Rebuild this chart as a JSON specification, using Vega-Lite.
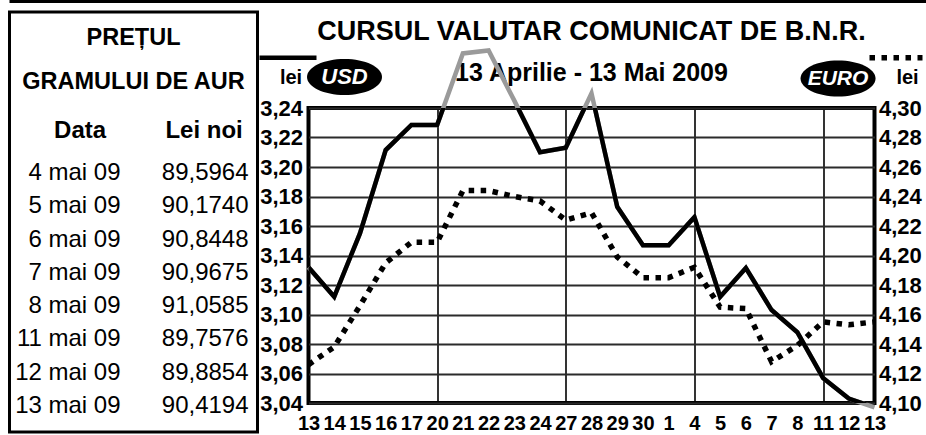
{
  "$schema": "https://vega.github.io/schema/vega-lite/v6.json",
  "background": "white",
  "padding": {"left": 7.5, "top": 0, "right": 0, "bottom": 0},
  "config": {
    "font": "Liberation Sans",
    "view": {"stroke": null},
    "locale": {"number": {"decimal": ",", "thousands": ".", "grouping": [3], "currency": ["", " lei"]}}
  },
  "datasets": {
    "rates": [
      {"date": "2009-04-13", "USD": 3.132, "EURO": 4.126},
      {"date": "2009-04-14", "USD": 3.112, "EURO": 4.138},
      {"date": "2009-04-15", "USD": 3.155, "EURO": 4.166},
      {"date": "2009-04-16", "USD": 3.2115, "EURO": 4.195},
      {"date": "2009-04-17", "USD": 3.2285, "EURO": 4.209},
      {"date": "2009-04-20", "USD": 3.2285, "EURO": 4.209},
      {"date": "2009-04-21", "USD": 3.277, "EURO": 4.244},
      {"date": "2009-04-22", "USD": 3.279, "EURO": 4.244},
      {"date": "2009-04-23", "USD": 3.245, "EURO": 4.24},
      {"date": "2009-04-24", "USD": 3.21, "EURO": 4.237},
      {"date": "2009-04-27", "USD": 3.213, "EURO": 4.224},
      {"date": "2009-04-28", "USD": 3.25, "EURO": 4.229},
      {"date": "2009-04-29", "USD": 3.173, "EURO": 4.199},
      {"date": "2009-04-30", "USD": 3.147, "EURO": 4.185},
      {"date": "2009-05-01", "USD": 3.147, "EURO": 4.185},
      {"date": "2009-05-04", "USD": 3.166, "EURO": 4.192},
      {"date": "2009-05-05", "USD": 3.112, "EURO": 4.165},
      {"date": "2009-05-06", "USD": 3.1315, "EURO": 4.164},
      {"date": "2009-05-07", "USD": 3.103, "EURO": 4.128},
      {"date": "2009-05-08", "USD": 3.088, "EURO": 4.139},
      {"date": "2009-05-11", "USD": 3.057, "EURO": 4.155},
      {"date": "2009-05-12", "USD": 3.043, "EURO": 4.153},
      {"date": "2009-05-13", "USD": 3.037, "EURO": 4.155}
    ],
    "gold": [
      {"Data": "4 mai 09", "Lei noi": 89.5964},
      {"Data": "5 mai 09", "Lei noi": 90.174},
      {"Data": "6 mai 09", "Lei noi": 90.8448},
      {"Data": "7 mai 09", "Lei noi": 90.9675},
      {"Data": "8 mai 09", "Lei noi": 91.0585},
      {"Data": "11 mai 09", "Lei noi": 89.7576},
      {"Data": "12 mai 09", "Lei noi": 89.8854},
      {"Data": "13 mai 09", "Lei noi": 90.4194}
    ]
  },
  "spacing": 7,
  "vconcat": [
    {
      "width": 917,
      "height": 3,
      "view": {"fill": "black", "stroke": null},
      "data": {"values": [{}]},
      "mark": {"type": "text", "text": "", "fontSize": 0},
      "encoding": {}
    },
    {
      "spacing": -5,
      "hconcat": [
        {
          "width": 248,
          "height": 420,
          "view": {"stroke": "black", "strokeWidth": 3},
          "title": {
            "text": ["PREȚUL", "GRAMULUI DE AUR"],
            "font": "Liberation Sans",
            "fontSize": 23.5,
            "fontWeight": "bold",
            "color": "black",
            "lineHeight": 44,
            "anchor": "middle",
            "frame": "group",
            "baseline": "alphabetic",
            "offset": -100.5
          },
          "data": {"name": "gold"},
          "layer": [
            {
              "mark": {"type": "text", "align": "right", "baseline": "middle", "dx": 41, "fontSize": 24, "color": "black"},
              "encoding": {
                "x": {
                  "datum": "Data", "type": "ordinal", "title": null,
                  "scale": {"type": "point", "domain": ["Data", "Lei noi"], "padding": 0.5, "align": 0.565},
                  "axis": {"orient": "top", "offset": -125, "domain": false, "ticks": false, "grid": false, "labelPadding": 0, "labelBaseline": "alphabetic", "labelAngle": 0, "labelFontSize": 24, "labelFontWeight": "bold", "labelColor": "black"}
                },
                "y": {"field": "Data", "type": "ordinal", "sort": null, "scale": {"type": "point", "range": [161, 394], "padding": 0}, "axis": null},
                "text": {"field": "Data"}
              }
            },
            {
              "mark": {"type": "text", "align": "right", "baseline": "middle", "dx": 45, "fontSize": 24, "color": "black"},
              "encoding": {
                "x": {
                  "datum": "Lei noi", "type": "ordinal", "title": null,
                  "scale": {"type": "point", "domain": ["Data", "Lei noi"], "padding": 0.5, "align": 0.565}
                },
                "y": {"field": "Data", "type": "ordinal", "sort": null, "scale": {"type": "point", "range": [161, 394], "padding": 0}, "axis": null},
                "text": {"field": "Lei noi", "format": ".4f"}
              }
            }
          ]
        },
        {
          "spacing": 0,
          "bounds": "flush",
          "vconcat": [
            {
              "width": 566,
              "height": 96,
              "view": {"stroke": null},
              "title": {
                "text": "CURSUL VALUTAR COMUNICAT DE B.N.R.",
                "subtitle": "13 Aprilie - 13 Mai 2009",
                "font": "Liberation Sans",
                "fontSize": 27,
                "fontWeight": "bold",
                "color": "black",
                "subtitleFont": "Liberation Sans",
                "subtitleFontSize": 25,
                "subtitleFontWeight": "bold",
                "subtitleColor": "black",
                "subtitlePadding": 15.5,
                "anchor": "middle",
                "frame": "group",
                "offset": -75.25
              },
              "data": {"values": [{}]},
              "mark": {"type": "text", "text": "", "fontSize": 0},
              "encoding": {}
            },
            {
              "width": 566,
              "height": 295,
              "view": {"stroke": "black", "strokeWidth": 4},
              "data": {"name": "rates"},
              "resolve": {"scale": {"y": "independent"}},
              "layer": [
                {
                  "layer": [
                    {
                      "mark": {"type": "line", "color": "#9a9a9a", "strokeWidth": 4.5, "clip": false},
                      "encoding": {
                        "x": {
                          "field": "date", "type": "ordinal", "title": null,
                          "scale": {"type": "point", "padding": 0},
                          "axis": {
                            "labelExpr": "toNumber(substring(datum.value, 8))",
                            "labelFont": "Liberation Sans",
                            "labelFontSize": 20, "labelFontWeight": "bold", "labelColor": "black",
                            "labelAngle": 0, "labelPadding": 10, "labelOverlap": false, "labelBound": false, "labelFlush": false,
                            "ticks": false, "domain": false,
                            "grid": true, "gridColor": "black", "gridWidth": 1.6,
                            "gridOpacity": {"condition": {"test": "utcday(toDate(datum.value)) === 1", "value": 1}, "value": 0}
                          }
                        },
                        "y": {
                          "field": "USD", "type": "quantitative", "title": "lei",
                          "scale": {"domain": [3.04, 3.24]},
                          "axis": {
                            "orient": "left",
                            "values": [3.04, 3.06, 3.08, 3.1, 3.12, 3.14, 3.16, 3.18, 3.2, 3.22, 3.24],
                            "tickCount": 12,
                            "format": ".2f",
                            "grid": true, "gridColor": "#2b2b2b", "gridWidth": 1.8,
                            "ticks": false, "domain": false,
                            "labelFont": "Liberation Sans",
                            "labelFontSize": 22, "labelFontWeight": "bold", "labelColor": "black",
                            "labelPadding": 6, "labelFlush": false, "labelOverlap": false, "labelBound": false,
                            "titleAngle": 0, "titleX": -18, "titleY": -25, "titleAlign": "center", "titleBaseline": "alphabetic",
                            "titleFont": "Liberation Sans", "titleFontSize": 20, "titleFontWeight": "bold", "titleColor": "black"
                          }
                        }
                      }
                    },
                    {
                      "mark": {"type": "line", "color": "black", "strokeWidth": 4.5, "clip": true},
                      "encoding": {
                        "x": {"field": "date", "type": "ordinal", "title": null, "scale": {"type": "point", "padding": 0}},
                        "y": {"field": "USD", "type": "quantitative", "title": "lei", "scale": {"domain": [3.04, 3.24]}}
                      }
                    },
                    {
                      "data": {"values": [{"currency": "USD"}]},
                      "mark": {"type": "rule", "color": "black", "strokeWidth": 4.5, "xOffset": -49, "x2Offset": 8, "clip": false},
                      "encoding": {
                        "x": {"datum": "2009-04-13", "type": "ordinal", "title": null, "scale": {"type": "point", "padding": 0}},
                        "x2": {"datum": "2009-04-13"},
                        "y": {"datum": 3.274, "type": "quantitative", "title": "lei", "scale": {"domain": [3.04, 3.24]}}
                      }
                    },
                    {
                      "data": {"values": [{"currency": "USD"}]},
                      "mark": {"type": "point", "shape": "M -1 0 A 1 0.48 0 1 1 1 0 A 1 0.48 0 1 1 -1 0 Z", "size": 5625, "filled": true, "opacity": 1, "color": "black", "xOffset": 36, "clip": false},
                      "encoding": {
                        "x": {"datum": "2009-04-13", "type": "ordinal", "title": null, "scale": {"type": "point", "padding": 0}},
                        "y": {"datum": 3.261, "type": "quantitative", "title": "lei", "scale": {"domain": [3.04, 3.24]}}
                      }
                    },
                    {
                      "data": {"values": [{"currency": "USD"}]},
                      "mark": {"type": "text", "font": "Liberation Sans", "fontSize": 22, "fontWeight": "bold", "fontStyle": "italic", "color": "white", "baseline": "middle", "align": "center", "xOffset": 36, "clip": false},
                      "encoding": {
                        "x": {"datum": "2009-04-13", "type": "ordinal", "title": null, "scale": {"type": "point", "padding": 0}},
                        "y": {"datum": 3.261, "type": "quantitative", "title": "lei", "scale": {"domain": [3.04, 3.24]}},
                        "text": {"field": "currency"}
                      }
                    }
                  ]
                },
                {
                  "layer": [
                    {
                      "mark": {"type": "line", "color": "black", "strokeWidth": 5.5, "strokeDash": [5.5, 6.5], "strokeCap": "butt", "clip": false},
                      "encoding": {
                        "x": {"field": "date", "type": "ordinal", "title": null, "scale": {"type": "point", "padding": 0}},
                        "y": {
                          "field": "EURO", "type": "quantitative", "title": "lei",
                          "scale": {"domain": [4.1, 4.3]},
                          "axis": {
                            "orient": "right",
                            "values": [4.1, 4.12, 4.14, 4.16, 4.18, 4.2, 4.22, 4.24, 4.26, 4.28, 4.3],
                            "tickCount": 12,
                            "format": ".2f",
                            "grid": false, "ticks": false, "domain": false,
                            "labelFont": "Liberation Sans",
                            "labelFontSize": 22, "labelFontWeight": "bold", "labelColor": "black",
                            "labelPadding": 4, "labelFlush": false, "labelOverlap": false, "labelBound": false,
                            "titleAngle": 0, "titleX": 32.5, "titleY": -25, "titleAlign": "center", "titleBaseline": "alphabetic",
                            "titleFont": "Liberation Sans", "titleFontSize": 20, "titleFontWeight": "bold", "titleColor": "black"
                          }
                        }
                      }
                    },
                    {
                      "data": {"values": [{"currency": "EURO"}]},
                      "mark": {"type": "rule", "color": "black", "strokeWidth": 5.5, "strokeDash": [5.5, 6.5], "strokeCap": "butt", "xOffset": -5, "x2Offset": 48, "clip": false},
                      "encoding": {
                        "x": {"datum": "2009-05-13", "type": "ordinal", "title": null, "scale": {"type": "point", "padding": 0}},
                        "x2": {"datum": "2009-05-13"},
                        "y": {"datum": 4.334, "type": "quantitative", "title": "lei", "scale": {"domain": [4.1, 4.3]}}
                      }
                    },
                    {
                      "data": {"values": [{"currency": "EURO"}]},
                      "mark": {"type": "point", "shape": "M -1 0 A 1 0.48 0 1 1 1 0 A 1 0.48 0 1 1 -1 0 Z", "size": 5625, "filled": true, "opacity": 1, "color": "black", "xOffset": 15, "clip": false},
                      "encoding": {
                        "x": {"datum": "2009-05-11", "type": "ordinal", "title": null, "scale": {"type": "point", "padding": 0}},
                        "y": {"datum": 4.32, "type": "quantitative", "title": "lei", "scale": {"domain": [4.1, 4.3]}}
                      }
                    },
                    {
                      "data": {"values": [{"currency": "EURO"}]},
                      "mark": {"type": "text", "font": "Liberation Sans", "fontSize": 21, "fontWeight": "bold", "fontStyle": "italic", "color": "white", "baseline": "middle", "align": "center", "xOffset": 15, "clip": false},
                      "encoding": {
                        "x": {"datum": "2009-05-11", "type": "ordinal", "title": null, "scale": {"type": "point", "padding": 0}},
                        "y": {"datum": 4.32, "type": "quantitative", "title": "lei", "scale": {"domain": [4.1, 4.3]}},
                        "text": {"field": "currency"}
                      }
                    }
                  ]
                }
              ]
            }
          ]
        }
      ]
    }
  ]
}
